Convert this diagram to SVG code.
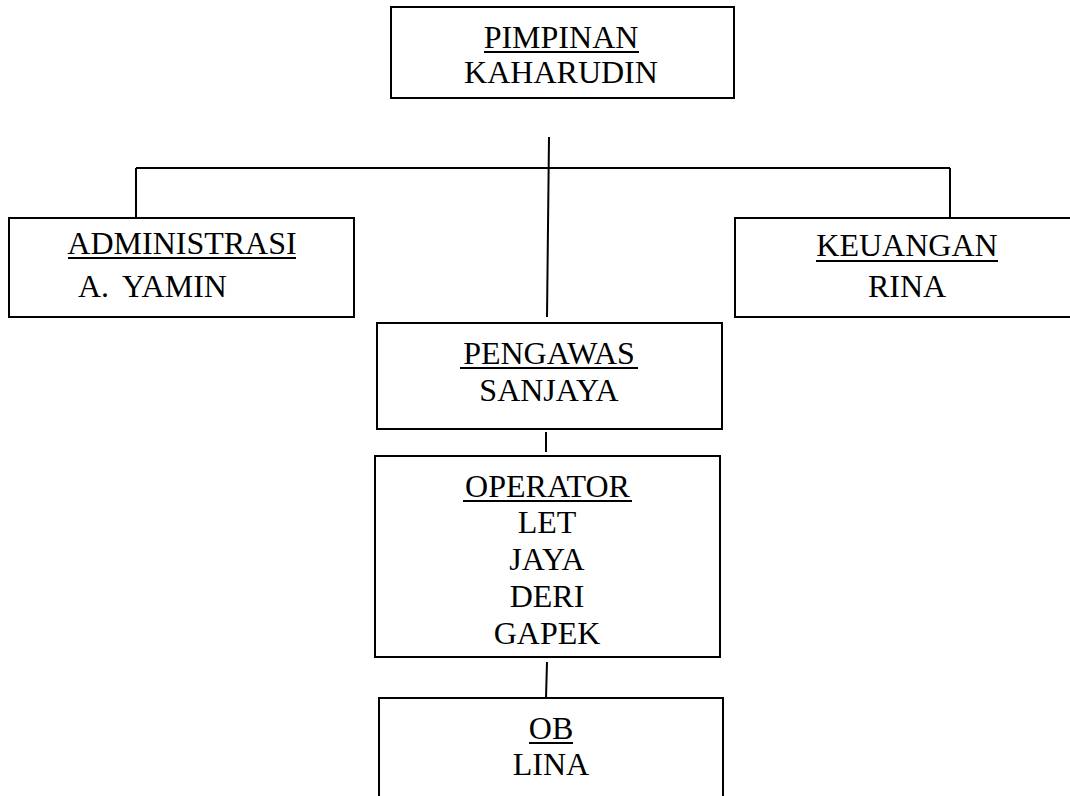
<svg xmlns="http://www.w3.org/2000/svg" width="1070" height="796" viewBox="0 0 1070 796">
<style>
.box{fill:#fff;stroke:#000;stroke-width:2}
.t{font-size:32px;fill:#000;text-anchor:middle}
.ul{stroke:#000;stroke-width:2}
.c{stroke:#000;stroke-width:2;fill:none}
</style>
<rect width="1070" height="796" fill="#fff"/>
<g id="connectors">
<line class="c" x1="549" y1="137" x2="547" y2="317"/>
<line class="c" x1="136" y1="168" x2="950" y2="168"/>
<line class="c" x1="136" y1="168" x2="136" y2="218"/>
<line class="c" x1="950" y1="168" x2="950" y2="218"/>
<line class="c" x1="546" y1="432" x2="546" y2="452"/>
<line class="c" x1="547" y1="662" x2="546" y2="698"/>
</g>
<g font-family="Liberation Serif, DejaVu Serif, serif">
<g id="pimpinan">
<rect class="box" x="391" y="7" width="343" height="91"/>
<text class="t" x="561" y="48">PIMPINAN</text>
<line class="ul" x1="484" y1="52" x2="639" y2="52"/>
<text class="t" x="561" y="83">KAHARUDIN</text>
</g>
<g id="administrasi">
<rect class="box" x="9" y="218" width="345" height="99"/>
<text class="t" x="182" y="254">ADMINISTRASI</text>
<line class="ul" x1="68" y1="258" x2="296" y2="258"/>
<text class="t" x="78" y="297" style="text-anchor:start">A.<tspan x="122">YAMIN</tspan></text>
</g>
<g id="keuangan">
<rect class="box" x="735" y="218" width="345" height="99"/>
<text class="t" x="907" y="256">KEUANGAN</text>
<line class="ul" x1="816" y1="261" x2="998" y2="261"/>
<text class="t" x="907" y="297">RINA</text>
</g>
<g id="pengawas">
<rect class="box" x="377" y="323" width="345" height="106"/>
<text class="t" x="549" y="364">PENGAWAS</text>
<line class="ul" x1="460" y1="368" x2="638" y2="368"/>
<text class="t" x="549" y="401">SANJAYA</text>
</g>
<g id="operator">
<rect class="box" x="375" y="456" width="345" height="201"/>
<text class="t" x="547.5" y="497">OPERATOR</text>
<line class="ul" x1="463" y1="501" x2="632" y2="501"/>
<text class="t" x="547" y="533">LET</text>
<text class="t" x="547" y="570">JAYA</text>
<text class="t" x="547" y="607">DERI</text>
<text class="t" x="547" y="644">GAPEK</text>
</g>
<g id="ob">
<rect class="box" x="379" y="698" width="344" height="120"/>
<text class="t" x="551" y="739">OB</text>
<line class="ul" x1="529" y1="743" x2="573" y2="743"/>
<text class="t" x="551" y="775">LINA</text>
</g>
</g>
</svg>
